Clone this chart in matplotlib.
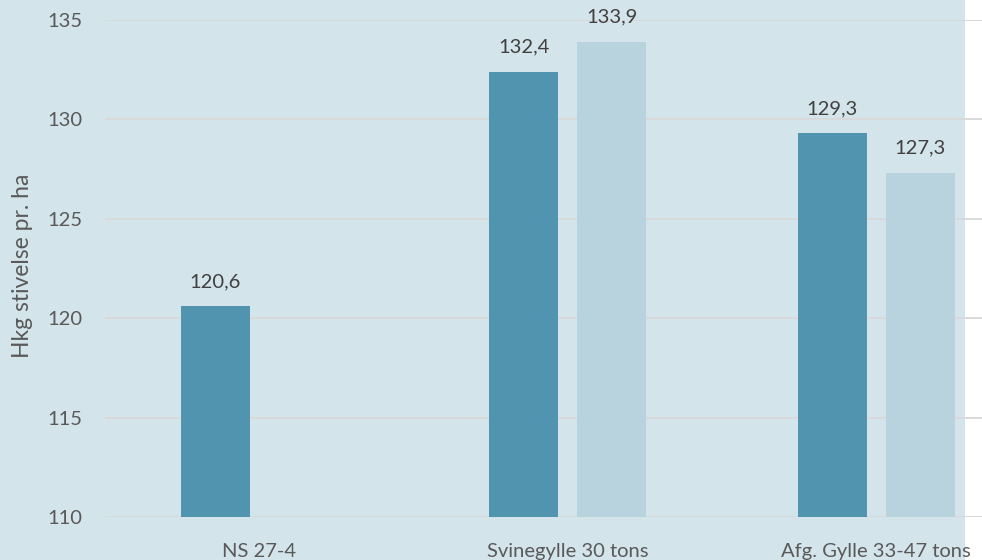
import matplotlib
matplotlib.use('Agg')
import matplotlib.pyplot as plt
from matplotlib.patches import Rectangle
import numpy as np

# data
categories = ['NS 27-4', 'Svinegylle 30 tons', 'Afg. Gylle 33-47 tons']
series_dark = [120.6, 132.4, 129.3]
series_light = [None, 133.9, 127.3]
y_ticks = [110, 115, 120, 125, 130, 135]

plt.rcParams['font.family'] = ['Lato', 'DejaVu Sans']

fig = plt.figure(figsize=(9.82, 5.6), dpi=100)
fig.patch.set_facecolor('white')
# light blue chart background (picture is cropped on the right)
fig.patches.append(Rectangle((0, 0), 965 / 982, 1, transform=fig.transFigure,
                             facecolor='#d3e4eb', edgecolor='none', zorder=0))

ax = fig.add_axes([105 / 982, 43 / 560, 925.5 / 982, 497 / 560])
ax.set_facecolor('none')
ax.set_zorder(2)

x = np.arange(len(categories))
w = 0.224
off = 0.143
dark_col = '#5094af'
light_col = '#b9d3de'
lab_col = '#404040'

for i, v in enumerate(series_dark):
    ax.bar(x[i] - off, v - 110, w, bottom=110, color=dark_col, zorder=3)
    ax.text(x[i] - off, v + 1.25, f'{v:.1f}'.replace('.', ','), ha='center', va='center',
            fontsize=14.5, color=lab_col)
for i, v in enumerate(series_light):
    if v is None:
        continue
    ax.bar(x[i] + off, v - 110, w, bottom=110, color=light_col, zorder=3)
    ax.text(x[i] + off, v + 1.25, f'{v:.1f}'.replace('.', ','), ha='center', va='center',
            fontsize=14.5, color=lab_col)

ax.set_xlim(-0.5, 2.5)
ax.set_ylim(110, 135)
ax.set_yticks(y_ticks)
ax.set_xticks(x)
ax.set_xticklabels(categories)
ax.tick_params(axis='both', length=0, labelsize=14.5, labelcolor='#595959')
ax.tick_params(axis='y', pad=16)
ax.tick_params(axis='x', pad=19)
ax.grid(axis='y', color='#d9d9d9', linewidth=1.4, zorder=1)
for s in ax.spines.values():
    s.set_visible(False)
ax.set_ylabel('Hkg stivelse pr. ha', fontsize=16.5, color='#595959')
ax.yaxis.set_label_coords(-72 / 925.5, 0.505)

fig.savefig('out.png', dpi=100)
